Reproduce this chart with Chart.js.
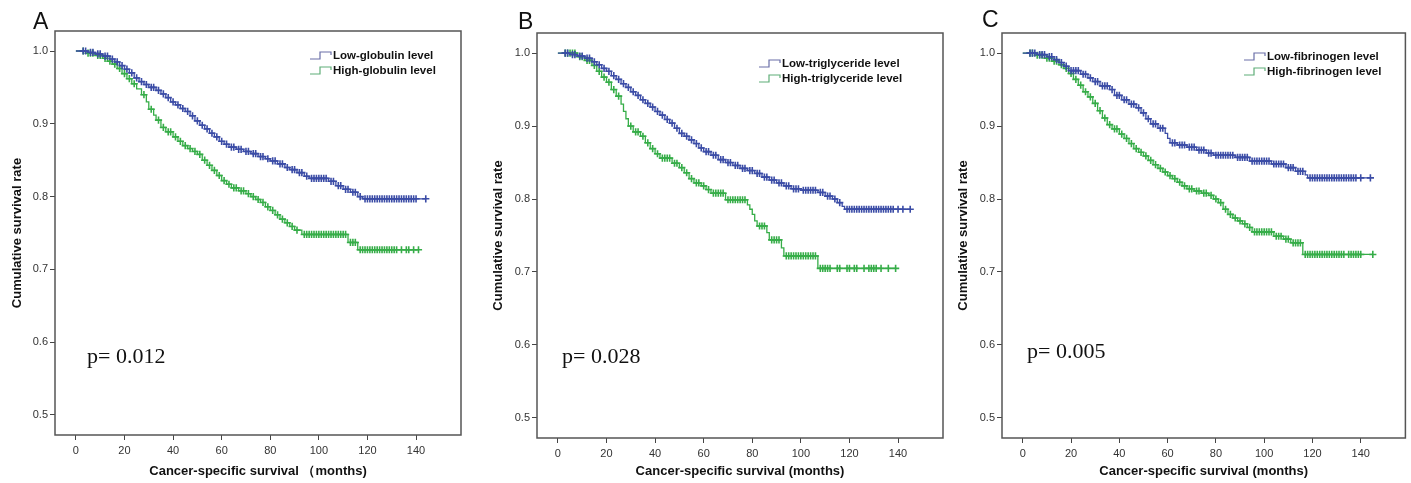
<!DOCTYPE html>
<html>
<head>
<meta charset="utf-8">
<script src="https://cdn.jsdelivr.net/npm/chart.js@4.4.1/dist/chart.umd.min.js"></script>
<style>
  html, body { margin: 0; padding: 0; background: #fff; }
  body { width: 1411px; height: 483px; position: relative; overflow: hidden; }
  canvas { position: absolute; top: 0; }
</style>
</head>
<body>
<canvas id="chartA" style="left:0px" width="470" height="483"></canvas>
<canvas id="chartB" style="left:470px" width="480" height="483"></canvas>
<canvas id="chartC" style="left:945px" width="466" height="483"></canvas>
<script>
// tick labels
const xTicks = [0, 20, 40, 60, 80, 100, 120, 140];
const yTicks = [0.5, 0.6, 0.7, 0.8, 0.9, 1.0];

// ---- Panel A: globulin ----
const aLowTimes = [5, 8, 11, 14, 16, 18, 20, 22, 24, 26, 28, 30, 33, 35, 37, 39, 41, 43, 45, 47, 49, 51, 53, 55, 57, 59, 61, 63, 66, 69, 72, 75, 78, 80, 83, 86, 88, 91, 94, 96, 104, 107, 110, 113, 116, 118];
const aLowSurv = [0.998, 0.996, 0.993, 0.989, 0.985, 0.980, 0.975, 0.970, 0.963, 0.958, 0.954, 0.950, 0.946, 0.941, 0.936, 0.930, 0.926, 0.921, 0.917, 0.911, 0.904, 0.898, 0.893, 0.887, 0.882, 0.876, 0.872, 0.868, 0.865, 0.862, 0.859, 0.855, 0.852, 0.849, 0.845, 0.840, 0.837, 0.833, 0.828, 0.825, 0.821, 0.815, 0.810, 0.806, 0.800, 0.797];
const aLowCensor = [3, 4, 6, 7, 9, 10, 12, 13, 15, 17, 19, 21, 23, 25, 27, 29, 31, 32, 34, 36, 38, 40, 42, 44, 46, 48, 50, 52, 54, 56, 58, 60, 62, 64, 65, 67, 68, 70, 71, 73, 74, 76, 77, 79, 81, 82, 84, 85, 87, 89, 90, 92, 93, 95, 97, 98, 99, 100, 101, 102, 103, 105, 106, 108, 109, 111, 112, 114, 115, 117, 119, 120, 121, 122, 123, 124, 125, 126, 127, 128, 129, 130, 131, 132, 133, 134, 135, 136, 137, 138, 139, 140, 144];
const aHighTimes = [4, 8, 11, 13, 15, 17, 19, 21, 23, 25, 27, 29, 30, 32, 33, 35, 37, 40, 42, 44, 46, 48, 50, 52, 54, 56, 58, 60, 62, 64, 67, 70, 72, 74, 76, 78, 80, 82, 84, 86, 88, 90, 93, 112, 116];
const aHighSurv = [0.997, 0.994, 0.990, 0.986, 0.982, 0.976, 0.969, 0.962, 0.955, 0.948, 0.940, 0.930, 0.920, 0.912, 0.905, 0.895, 0.889, 0.882, 0.876, 0.870, 0.866, 0.862, 0.858, 0.850, 0.843, 0.836, 0.829, 0.822, 0.817, 0.812, 0.808, 0.804, 0.800, 0.796, 0.792, 0.786, 0.781, 0.775, 0.769, 0.764, 0.759, 0.754, 0.748, 0.737, 0.727];
const aHighCensor = [3, 5, 6, 7, 9, 10, 12, 14, 16, 18, 20, 22, 24, 28, 31, 34, 36, 38, 39, 41, 43, 45, 47, 49, 51, 53, 55, 57, 59, 61, 63, 65, 66, 68, 69, 71, 73, 75, 77, 79, 81, 83, 85, 87, 89, 91, 94, 95, 96, 97, 98, 99, 100, 101, 102, 103, 104, 105, 106, 107, 108, 109, 110, 111, 113, 114, 115, 117, 118, 119, 120, 121, 122, 123, 124, 125, 126, 127, 128, 129, 130, 131, 132, 134, 136, 137, 139, 141];

// ---- Panel B: triglyceride ----
const bLowTimes = [5, 8, 11, 14, 16, 18, 20, 22, 24, 26, 28, 30, 32, 34, 36, 38, 40, 42, 44, 46, 48, 50, 52, 54, 56, 58, 60, 63, 66, 69, 72, 75, 78, 81, 84, 87, 90, 93, 96, 100, 107, 110, 113, 115, 117, 118];
const bLowSurv = [0.998, 0.996, 0.993, 0.988, 0.984, 0.979, 0.975, 0.969, 0.964, 0.958, 0.953, 0.947, 0.942, 0.936, 0.931, 0.926, 0.920, 0.915, 0.909, 0.904, 0.897, 0.890, 0.886, 0.881, 0.876, 0.870, 0.865, 0.860, 0.854, 0.850, 0.846, 0.842, 0.839, 0.835, 0.830, 0.826, 0.822, 0.818, 0.814, 0.812, 0.809, 0.804, 0.800, 0.795, 0.790, 0.786];
const bLowCensor = [3, 4, 6, 7, 9, 10, 12, 13, 15, 17, 19, 21, 23, 25, 27, 29, 31, 33, 35, 37, 39, 41, 43, 45, 47, 49, 51, 53, 55, 57, 59, 61, 62, 64, 65, 67, 68, 70, 71, 73, 74, 76, 77, 79, 80, 82, 83, 85, 86, 88, 89, 91, 92, 94, 95, 97, 98, 99, 101, 102, 103, 104, 105, 106, 108, 109, 111, 112, 114, 116, 119, 120, 121, 122, 123, 124, 125, 126, 127, 128, 129, 130, 131, 132, 133, 134, 135, 136, 137, 138, 140, 142, 145];
const bHighTimes = [8, 11, 14, 16, 18, 20, 22, 24, 26, 27, 28, 29, 31, 34, 36, 38, 40, 42, 47, 50, 52, 54, 56, 59, 61, 63, 69, 78, 79, 80, 81, 82, 86, 87, 92, 93, 107];
const bHighSurv = [0.995, 0.990, 0.983, 0.975, 0.967, 0.960, 0.950, 0.941, 0.930, 0.920, 0.910, 0.900, 0.892, 0.886, 0.877, 0.869, 0.862, 0.856, 0.849, 0.843, 0.836, 0.828, 0.822, 0.818, 0.813, 0.808, 0.799, 0.792, 0.786, 0.779, 0.770, 0.763, 0.754, 0.744, 0.733, 0.722, 0.705];
const bHighCensor = [3, 4, 5, 6, 7, 9, 10, 12, 13, 15, 17, 19, 21, 23, 25, 30, 32, 33, 35, 37, 39, 41, 43, 44, 45, 46, 48, 49, 51, 53, 55, 57, 58, 60, 62, 64, 65, 66, 67, 68, 70, 71, 72, 73, 74, 75, 76, 77, 83, 84, 85, 88, 89, 90, 91, 94, 95, 96, 97, 98, 99, 100, 101, 102, 103, 104, 105, 106, 108, 109, 110, 111, 112, 115, 116, 119, 120, 122, 123, 126, 128, 129, 130, 131, 133, 136, 139];

// ---- Panel C: fibrinogen ----
const cLowTimes = [6, 10, 13, 15, 17, 19, 24, 27, 29, 32, 36, 38, 41, 44, 47, 49, 51, 53, 56, 59, 60, 61, 64, 68, 72, 76, 79, 88, 94, 103, 109, 113, 117, 118];
const cLowSurv = [0.998, 0.995, 0.991, 0.987, 0.982, 0.976, 0.971, 0.966, 0.961, 0.955, 0.950, 0.942, 0.936, 0.930, 0.925, 0.918, 0.910, 0.903, 0.897, 0.890, 0.883, 0.877, 0.874, 0.871, 0.867, 0.863, 0.860, 0.857, 0.852, 0.848, 0.843, 0.838, 0.833, 0.829];
const cLowCensor = [3, 4, 5, 7, 8, 9, 11, 12, 14, 16, 18, 20, 21, 22, 23, 25, 26, 28, 30, 31, 33, 34, 35, 37, 39, 40, 42, 43, 45, 46, 48, 50, 52, 54, 55, 57, 58, 62, 63, 65, 66, 67, 69, 70, 71, 73, 74, 75, 77, 78, 80, 81, 82, 83, 84, 85, 86, 87, 89, 90, 91, 92, 93, 95, 96, 97, 98, 99, 100, 101, 102, 104, 105, 106, 107, 108, 110, 111, 112, 114, 115, 116, 119, 120, 121, 122, 123, 124, 125, 126, 127, 128, 129, 130, 131, 132, 133, 134, 135, 136, 137, 138, 140, 144];
const cHighTimes = [5, 9, 12, 15, 17, 19, 21, 23, 25, 27, 29, 31, 33, 35, 37, 40, 42, 44, 46, 48, 50, 52, 54, 56, 58, 60, 62, 64, 66, 68, 71, 74, 77, 79, 81, 83, 85, 87, 89, 91, 93, 95, 104, 108, 111, 116];
const cHighSurv = [0.997, 0.993, 0.989, 0.984, 0.979, 0.972, 0.964, 0.956, 0.947, 0.940, 0.931, 0.921, 0.911, 0.902, 0.896, 0.889, 0.883, 0.876, 0.869, 0.864, 0.859, 0.853, 0.847, 0.842, 0.837, 0.832, 0.828, 0.823, 0.818, 0.814, 0.811, 0.808, 0.805, 0.800, 0.795, 0.786, 0.779, 0.774, 0.770, 0.766, 0.761, 0.755, 0.749, 0.745, 0.740, 0.724];
const cHighCensor = [3, 4, 6, 7, 8, 10, 11, 13, 14, 16, 18, 20, 22, 24, 26, 28, 30, 32, 34, 36, 38, 39, 41, 43, 45, 47, 49, 51, 53, 55, 57, 59, 61, 63, 65, 67, 69, 70, 72, 73, 75, 76, 78, 80, 82, 84, 86, 88, 90, 92, 94, 96, 97, 98, 99, 100, 101, 102, 103, 105, 106, 107, 109, 110, 112, 113, 114, 115, 117, 118, 119, 120, 121, 122, 123, 124, 125, 126, 127, 128, 129, 130, 131, 132, 133, 135, 136, 137, 138, 139, 140, 145];

const BLUE = '#3b4ca6';
const GREEN = '#36ad48';
const FONT = '"Liberation Sans", Arial, sans-serif';

// value of the KM step function at time t
function survAt(times, surv, t) {
  let s = 1;
  for (let i = 0; i < times.length; i++) {
    if (times[i] <= t) s = surv[i]; else break;
  }
  return s;
}

function stepData(times, surv, censor) {
  const pts = [{ x: 0, y: 1 }];
  times.forEach((t, i) => pts.push({ x: t, y: surv[i] }));
  const end = censor[censor.length - 1];
  pts.push({ x: end, y: surv[surv.length - 1] });
  return pts;
}

function censorData(times, surv, censor) {
  return censor.map(c => ({ x: c, y: survAt(times, surv, c) }));
}

const panelDecor = {
  id: 'panelDecor',
  afterDraw(chart, args, opts) {
    const { ctx, chartArea: a } = chart;
    ctx.save();
    // frame around plot area
    ctx.strokeStyle = '#555';
    ctx.lineWidth = 1.5;
    ctx.strokeRect(a.left, a.top, a.right - a.left, a.bottom - a.top);

    // panel letter
    ctx.fillStyle = '#111';
    ctx.textBaseline = 'middle';
    ctx.textAlign = 'left';
    ctx.font = '23px ' + FONT;
    ctx.fillText(opts.letter, opts.letterX, opts.letterY);

    // p value
    ctx.font = '22px "Liberation Serif", "Times New Roman", serif';
    ctx.fillText(opts.pText, a.left + opts.pDx, opts.pY);

    // legend with step icons
    ctx.font = 'bold 11.5px ' + FONT;
    const lx = a.left + opts.legendDx;
    opts.legend.forEach((item, i) => {
      const y = a.top + opts.legendDy + i * 15;
      ctx.strokeStyle = item.color;
      ctx.lineWidth = 1.2;
      ctx.beginPath();
      ctx.moveTo(lx - 23, y + 3);
      ctx.lineTo(lx - 13, y + 3);
      ctx.lineTo(lx - 13, y - 4);
      ctx.lineTo(lx - 2, y - 4);
      ctx.lineTo(lx - 2, y - 1);
      ctx.stroke();
      ctx.fillStyle = '#111';
      ctx.fillText(item.text, lx, y);
    });
    ctx.restore();
  }
};

function makePanel(id, cfg) {
  const ctx = document.getElementById(id).getContext('2d');
  return new Chart(ctx, {
    type: 'line',
    data: {
      datasets: [
        {
          label: cfg.lowLabel,
          data: stepData(cfg.lowTimes, cfg.lowSurv, cfg.lowCensor),
          borderColor: BLUE,
          borderWidth: 1.3,
          stepped: 'before',
          pointRadius: 0,
          fill: false,
        },
        {
          label: cfg.lowLabel + ' censored',
          data: censorData(cfg.lowTimes, cfg.lowSurv, cfg.lowCensor),
          showLine: false,
          pointStyle: 'cross',
          pointRadius: 3.6,
          pointBorderWidth: 1.6,
          borderColor: BLUE,
        },
        {
          label: cfg.highLabel,
          data: stepData(cfg.highTimes, cfg.highSurv, cfg.highCensor),
          borderColor: GREEN,
          borderWidth: 1.3,
          stepped: 'before',
          pointRadius: 0,
          fill: false,
        },
        {
          label: cfg.highLabel + ' censored',
          data: censorData(cfg.highTimes, cfg.highSurv, cfg.highCensor),
          showLine: false,
          pointStyle: 'cross',
          pointRadius: 3.6,
          pointBorderWidth: 1.6,
          borderColor: GREEN,
        },
      ],
    },
    options: {
      responsive: false,
      animation: false,
      events: [],
      layout: { padding: { left: cfg.padLeft, top: cfg.padTop, right: cfg.padRight, bottom: 0 } },
      plugins: {
        legend: { display: false },
        tooltip: { enabled: false },
        panelDecor: {
          letter: cfg.letter, letterX: cfg.letterX, letterY: cfg.letterY,
          pText: cfg.pText, pDx: cfg.pDx, pY: cfg.pY,
          legendDx: cfg.legendDx, legendDy: cfg.legendDy,
          legend: [
            { text: cfg.lowLabel, color: '#6a6fa8' },
            { text: cfg.highLabel, color: '#5fae78' },
          ],
        },
      },
      scales: {
        x: {
          type: 'linear',
          min: -8.6,
          max: 158.5,
          afterBuildTicks: s => { s.ticks = xTicks.map(v => ({ value: v })); },
          afterFit: s => { s.height = cfg.xAxisHeight; },
          grid: { drawOnChartArea: false, drawTicks: true, tickLength: 5, color: '#444' },
          border: { display: false },
          ticks: { font: { size: 11, family: FONT }, color: '#333', padding: 4, maxRotation: 0, callback: v => String(v) },
          title: { display: true, text: cfg.xTitle, color: '#111', font: { size: 13, weight: 'bold', family: FONT }, padding: { top: 4, bottom: 4 } },
        },
        y: {
          type: 'linear',
          min: 0.4725,
          max: 1.0275,
          afterBuildTicks: s => { s.ticks = yTicks.map(v => ({ value: v })); },
          afterFit: s => { s.width = cfg.yAxisWidth; },
          grid: { drawOnChartArea: false, drawTicks: true, tickLength: 5, color: '#444' },
          border: { display: false },
          ticks: { font: { size: 11, family: FONT }, color: '#333', padding: 2, callback: v => v.toFixed(1) },
          title: { display: true, text: 'Cumulative survival rate', color: '#111', font: { size: 13, weight: 'bold', family: FONT }, padding: { top: 4, bottom: 4 } },
        },
      },
    },
    plugins: [panelDecor],
  });
}

makePanel('chartA', {
  letter: 'A', letterX: 33, letterY: 23,
  pText: 'p= 0.012', pDx: 32, pY: 357,
  lowLabel: 'Low-globulin level', highLabel: 'High-globulin level',
  legendDx: 278, legendDy: 25,
  xTitle: 'Cancer-specific survival （months)',
  padLeft: 6, padTop: 31, padRight: 9, yAxisWidth: 49, xAxisHeight: 48,
  lowTimes: aLowTimes, lowSurv: aLowSurv, lowCensor: aLowCensor,
  highTimes: aHighTimes, highSurv: aHighSurv, highCensor: aHighCensor,
});

makePanel('chartB', {
  letter: 'B', letterX: 48, letterY: 23,
  pText: 'p= 0.028', pDx: 25, pY: 357,
  lowLabel: 'Low-triglyceride level', highLabel: 'High-triglyceride level',
  legendDx: 245, legendDy: 31,
  xTitle: 'Cancer-specific survival (months)',
  padLeft: 17, padTop: 33, padRight: 7, yAxisWidth: 50, xAxisHeight: 45,
  lowTimes: bLowTimes, lowSurv: bLowSurv, lowCensor: bLowCensor,
  highTimes: bHighTimes, highSurv: bHighSurv, highCensor: bHighCensor,
});

makePanel('chartC', {
  letter: 'C', letterX: 37, letterY: 21,
  pText: 'p= 0.005', pDx: 25, pY: 352,
  lowLabel: 'Low-fibrinogen level', highLabel: 'High-fibrinogen level',
  legendDx: 265, legendDy: 24,
  xTitle: 'Cancer-specific survival (months)',
  padLeft: 7, padTop: 33, padRight: 4, yAxisWidth: 50, xAxisHeight: 45,
  lowTimes: cLowTimes, lowSurv: cLowSurv, lowCensor: cLowCensor,
  highTimes: cHighTimes, highSurv: cHighSurv, highCensor: cHighCensor,
});
</script>
</body>
</html>
